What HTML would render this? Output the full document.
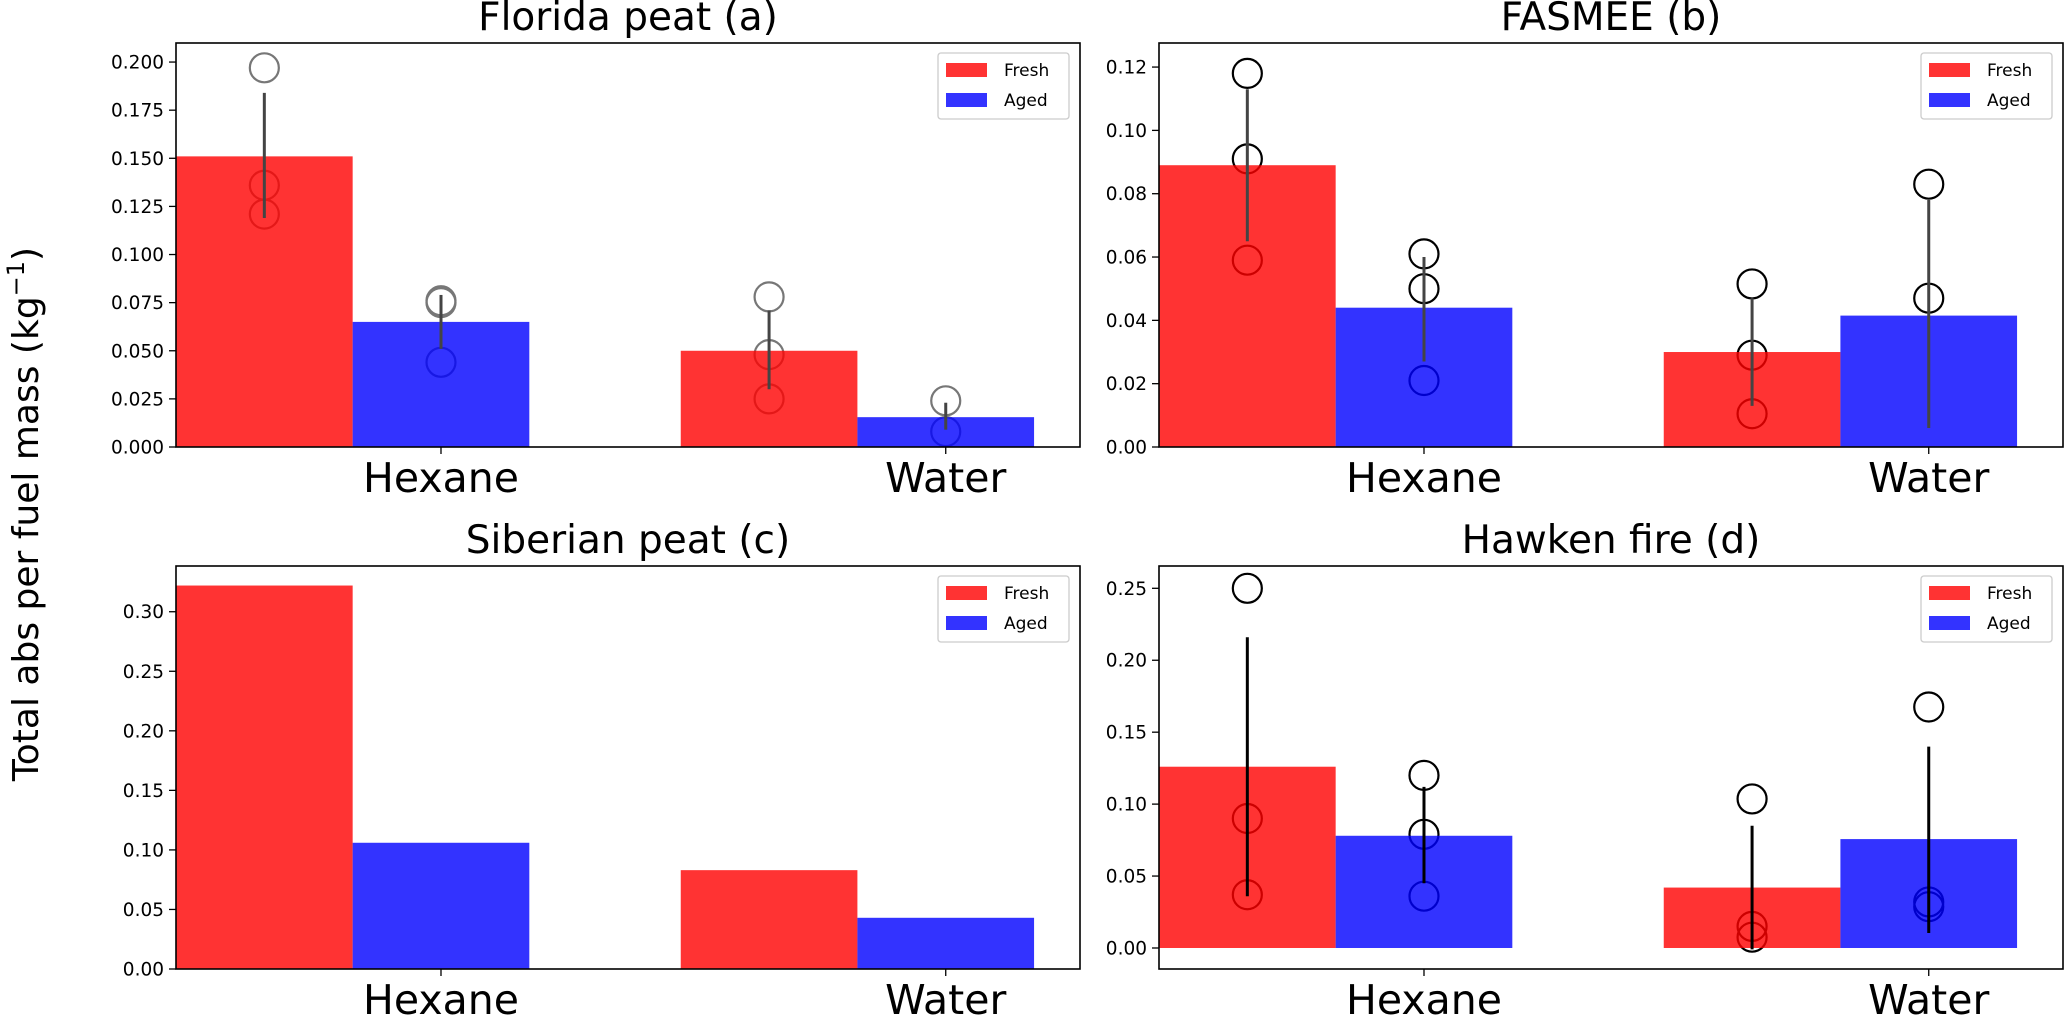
<!DOCTYPE html>
<html><head><meta charset="utf-8"><style>
html,body{margin:0;padding:0;background:#fff;}
svg{display:block;font-family:"DejaVu Sans","Liberation Sans",sans-serif;}
</style></head><body>
<svg id="fig" width="2067" height="1016" viewBox="0 0 2067 1016" xmlns="http://www.w3.org/2000/svg">
<text x="38" y="514" font-size="36" text-anchor="middle" transform="rotate(-90 38 514)">Total abs per fuel mass (kg<tspan font-size="24" dy="-14">−1</tspan><tspan dy="14">)</tspan></text>
</svg>
<script>
const categories = ["Hexane", "Water"];
const titles = ["Florida peat (a)", "FASMEE (b)", "Siberian peat (c)", "Hawken fire (d)"];
const freshVals = [[0.151, 0.050], [0.089, 0.030], [0.322, 0.083], [0.126, 0.042]];
const agedVals = [[0.065, 0.0155], [0.044, 0.0415], [0.106, 0.043], [0.078, 0.0757]];
const freshPts = [[[0.197, 0.136, 0.121], [0.078, 0.048, 0.025]], [[0.118, 0.091, 0.059], [0.0515, 0.029, 0.0105]], [[], []], [[0.250, 0.090, 0.037], [0.1036, 0.015, 0.0075]]];
const agedPts = [[[0.076, 0.075, 0.044], [0.024, 0.008]], [[0.061, 0.050, 0.021], [0.083, 0.047]], [[], []], [[0.120, 0.079, 0.036], [0.1675, 0.032, 0.0287]]];
const freshErr = [[[0.119, 0.184], [0.030, 0.071]], [[0.065, 0.113], [0.013, 0.047]], [null, null], [[0.036, 0.216], [-0.001, 0.085]]];
const agedErr = [[[0.051, 0.079], [0.009, 0.023]], [[0.027, 0.060], [0.006, 0.078]], [null, null], [[0.045, 0.112], [0.0104, 0.140]]];
const yTicks = [[0, 0.025, 0.05, 0.075, 0.1, 0.125, 0.15, 0.175, 0.2], [0, 0.02, 0.04, 0.06, 0.08, 0.1, 0.12], [0, 0.05, 0.1, 0.15, 0.2, 0.25, 0.3], [0, 0.05, 0.1, 0.15, 0.2, 0.25]];
const yTickLabels = [["0.000","0.025","0.050","0.075","0.100","0.125","0.150","0.175","0.200"], ["0.00","0.02","0.04","0.06","0.08","0.10","0.12"], ["0.00","0.05","0.10","0.15","0.20","0.25","0.30"], ["0.00","0.05","0.10","0.15","0.20","0.25"]];
const yLims = [[0, 0.2099], [0, 0.1276], [0, 0.3384], [-0.0146, 0.2655]];

const NS = "http://www.w3.org/2000/svg";
const svg = document.getElementById("fig");
function mk(tag, attrs, parent) {
  const e = document.createElementNS(NS, tag);
  for (const k in attrs) e.setAttribute(k, attrs[k]);
  (parent || svg).appendChild(e);
  return e;
}
const boxes = [[176, 43, 1080, 447], [1159, 43, 2063, 447], [176, 566, 1080, 969], [1159, 566, 2063, 969]];
const ptColor = ["#777", "#000", "#000", "#000"];
const errColor = ["#444", "#444", "#444", "#000"];
const W = 0.35, XMIN = -0.175, XMAX = 1.616;

for (let p = 0; p < 4; p++) {
  const [L, T, R, B] = boxes[p];
  const g = mk("g", {});
  
  
  const xs = v => L + (v - XMIN) / (XMAX - XMIN) * (R - L);
  const ys = v => B - (v - yLims[p][0]) / (yLims[p][1] - yLims[p][0]) * (B - T);
  for (let c = 0; c < 2; c++) {
    freshPts[p][c].forEach(v => {
      const e = mk("circle", {cx: xs(c), cy: ys(v), r: 14.5, fill: "none", stroke: ptColor[p], "stroke-width": 2.2}, g);
      
      
    });
    agedPts[p][c].forEach(v => {
      const e = mk("circle", {cx: xs(c + W), cy: ys(v), r: 14.5, fill: "none", stroke: ptColor[p], "stroke-width": 2.2}, g);
      
      
    });
  }
  for (let c = 0; c < 2; c++) {
    const f = mk("rect", {x: xs(c - W / 2), y: ys(freshVals[p][c]), width: xs(c + W / 2) - xs(c - W / 2), height: ys(0) - ys(freshVals[p][c]), fill: "#ff0000", "fill-opacity": 0.8}, g);
    
    
    const a = mk("rect", {x: xs(c + W / 2), y: ys(agedVals[p][c]), width: xs(c + 1.5 * W) - xs(c + W / 2), height: ys(0) - ys(agedVals[p][c]), fill: "#0000ff", "fill-opacity": 0.8}, g);
    
    
  }
  for (let c = 0; c < 2; c++) {
    if (freshErr[p][c]) {
      const e = mk("line", {x1: xs(c), x2: xs(c), y1: ys(freshErr[p][c][0]), y2: ys(freshErr[p][c][1]), stroke: errColor[p], "stroke-width": 3}, g);
      
      
    }
    if (agedErr[p][c]) {
      const e = mk("line", {x1: xs(c + W), x2: xs(c + W), y1: ys(agedErr[p][c][0]), y2: ys(agedErr[p][c][1]), stroke: errColor[p], "stroke-width": 3}, g);
      
      
    }
  }
  const fr = mk("rect", {x: L, y: T, width: R - L, height: B - T, fill: "none", stroke: "#000", "stroke-width": 1.6}, g);
  
  
  yTicks[p].forEach((v, i) => {
    mk("line", {x1: L - 7, x2: L, y1: ys(v), y2: ys(v), stroke: "#000", "stroke-width": 1.3}, g);
    const t = mk("text", {x: L - 12, y: ys(v) + 6.5, "font-size": 18.5, "text-anchor": "end"}, g);
    t.textContent = yTickLabels[p][i];
    
    
  });
  categories.forEach((c, i) => {
    mk("line", {x1: xs(i + W), x2: xs(i + W), y1: B, y2: B + 7, stroke: "#000", "stroke-width": 1.3}, g);
    const t = mk("text", {x: xs(i + W), y: B + 45, "font-size": 41, "text-anchor": "middle"}, g);
    t.textContent = c;
    
    
  });
  const tt = mk("text", {x: (L + R) / 2, y: T - 13, "font-size": 39, "text-anchor": "middle"}, g);
  tt.textContent = titles[p];
  
  
  const lg = mk("g", {}, g);
  
  
  const lx = R - 142, ly = T + 10;
  mk("rect", {x: lx, y: ly, width: 131, height: 66, rx: 3, fill: "#fff", stroke: "#ccc", "stroke-width": 1.3}, lg);
  [["Fresh", "#ff0000"], ["Aged", "#0000ff"]].forEach((e, i) => {
    mk("rect", {x: lx + 8, y: ly + 10 + i * 30, width: 41, height: 14, fill: e[1], "fill-opacity": 0.8}, lg);
    const t = mk("text", {x: lx + 66, y: ly + 23 + i * 30, "font-size": 17}, lg);
    t.textContent = e[0];
    
    
  });
}
</script>
</body></html>
